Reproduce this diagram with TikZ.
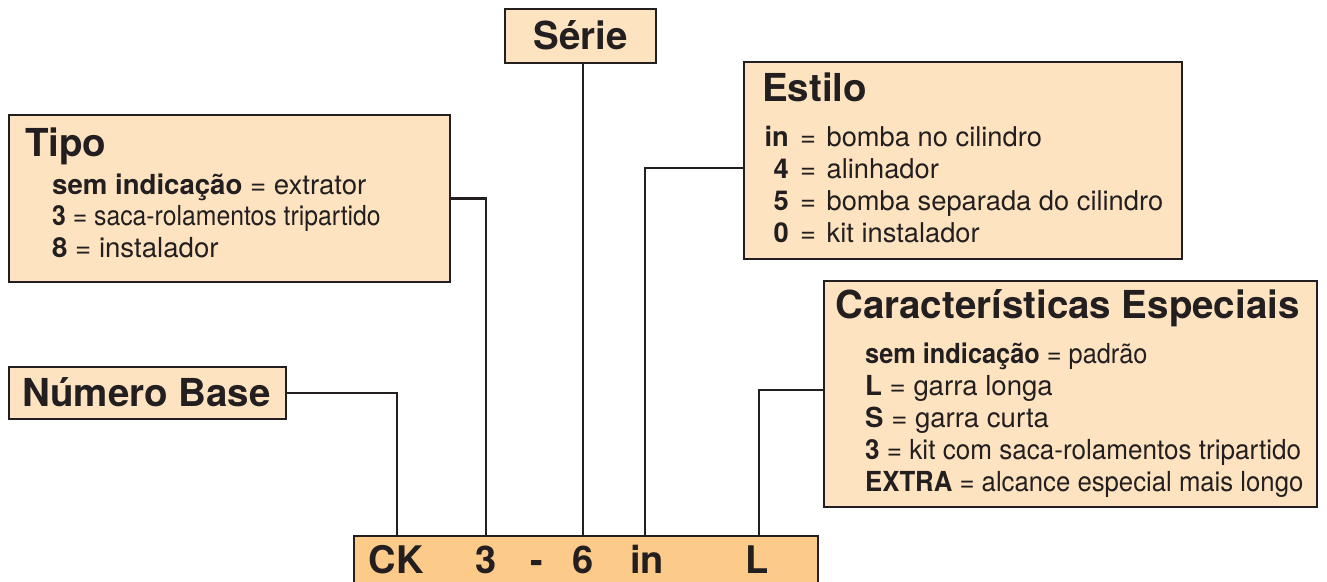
\documentclass[tikz,border=0pt]{standalone}
\usepackage{fontspec}
\setmainfont{TeX Gyre Heros}
\definecolor{ink}{HTML}{231F20}
\definecolor{peach}{HTML}{FEE3C1}
\definecolor{barfill}{HTML}{FDCB89}
\newcommand{\sx}[2]{\scalebox{#1}[1]{#2}}
\begin{document}
\begin{tikzpicture}[x=1pt,y=-1pt,
  box/.style={draw=ink, line width=2.4pt, fill=peach, inner sep=0pt, outer sep=0pt, anchor=north west},
  barbox/.style={draw=ink, line width=2.4pt, fill=barfill, inner sep=0pt, outer sep=0pt, anchor=north west},
  title/.style={font=\fontsize{38.5}{40}\selectfont\bfseries, text=ink, inner sep=0pt, anchor=base west},
  body/.style={font=\fontsize{27.6}{32}\selectfont, text=ink, inner sep=0pt, anchor=base west},
  ebody/.style={font=\fontsize{27.3}{32}\selectfont, text=ink, inner sep=0pt, anchor=base west},
  bkey/.style={font=\fontsize{27.3}{32}\selectfont\bfseries, text=ink, inner sep=0pt, anchor=base east},
  bartext/.style={font=\fontsize{38}{40}\selectfont\bfseries, text=ink, inner sep=0pt, anchor=base},
  conn/.style={draw=ink, line width=2.2pt}
]
\useasboundingbox (0,0) rectangle (1327,581);
\clip (0,0) rectangle (1327,581);

% boxes
\node[box, minimum width=151pt, minimum height=54pt] (serie) at (505,9) {};
\node[title, anchor=base] (serieT) at (580.5,49) {Série};

\node[box, minimum width=441pt, minimum height=167pt] (tipo) at (9,115) {};
\node[title] (tipoT) at (25,156) {Tipo};
\node[body] (tipo1) at (52,194) {\textbf{sem indicação} = extrator};
\node[body] (tipo2) at (52,225) {\sx{0.897}{\textbf{3} = saca-rolamentos tripartido}};
\node[body] (tipo3) at (52,257) {\textbf{8} = instalador};

\node[box, minimum width=277pt, minimum height=52pt] (numbase) at (9,367) {};
\node[title] (numbaseT) at (22,406) {Número Base};

\node[box, minimum width=438pt, minimum height=197pt] (estilo) at (744,62) {};
\node[title] (estiloT) at (762,101) {Estilo};
\node[bkey] (ek1) at (789,146) {in};
\node[ebody] (ev1) at (800,146) {=\hspace{10.5pt}bomba no cilindro};
\node[bkey] (ek2) at (789,178) {4};
\node[ebody] (ev2) at (800,178) {=\hspace{10.5pt}alinhador};
\node[bkey] (ek3) at (789,210) {5};
\node[ebody] (ev3) at (800,210) {=\hspace{10.5pt}bomba separada do cilindro};
\node[bkey] (ek4) at (789,242) {0};
\node[ebody] (ev4) at (800,242) {=\hspace{10.5pt}kit instalador};

\node[box, minimum width=493pt, minimum height=226pt] (caract) at (824,281) {};
\node[title] (caractT) at (835,318) {Características Especiais};
\node[body] (c1) at (865,363) {\sx{0.918}{\textbf{sem indicação} = padrão}};
\node[body] (c2) at (865,395) {\textbf{L} = garra longa};
\node[body] (c3) at (865,427) {\textbf{S} = garra curta};
\node[body] (c4) at (865,459) {\sx{0.945}{\textbf{3} = kit com saca-rolamentos tripartido}};
\node[body] (c5) at (865,491) {\sx{0.932}{\textbf{EXTRA} = alcance especial mais longo}};

% bottom bar
\node[barbox, minimum width=464pt, minimum height=70pt] (bar) at (354,536) {};
\node[bartext] (tck) at (396,573) {CK};
\node[bartext] (t3) at (486,573) {3};
\node[bartext] (tdash) at (537,573) {-};
\node[bartext] (t6) at (583,573) {6};
\node[bartext] (tin) at (647,573) {in};
\node[bartext] (tL) at (757,573) {L};

\coordinate (xck) at (397,0);
\coordinate (x3) at (486,0);
\coordinate (x6) at (583,0);
\coordinate (xin) at (645,0);
\coordinate (xL) at (759,0);

% connectors
\draw[conn] (numbase.east) -| (xck |- bar.north);
\draw[conn] (tipo.east) -| (x3 |- bar.north);
\draw[conn] (serie.south -| x6) -- (x6 |- bar.north);
\draw[conn] ([yshift=-7.5pt]estilo.west) -| (xin |- bar.north);
\draw[conn] ([yshift=4pt]caract.west) -| (xL |- bar.north);
\end{tikzpicture}
\end{document}
